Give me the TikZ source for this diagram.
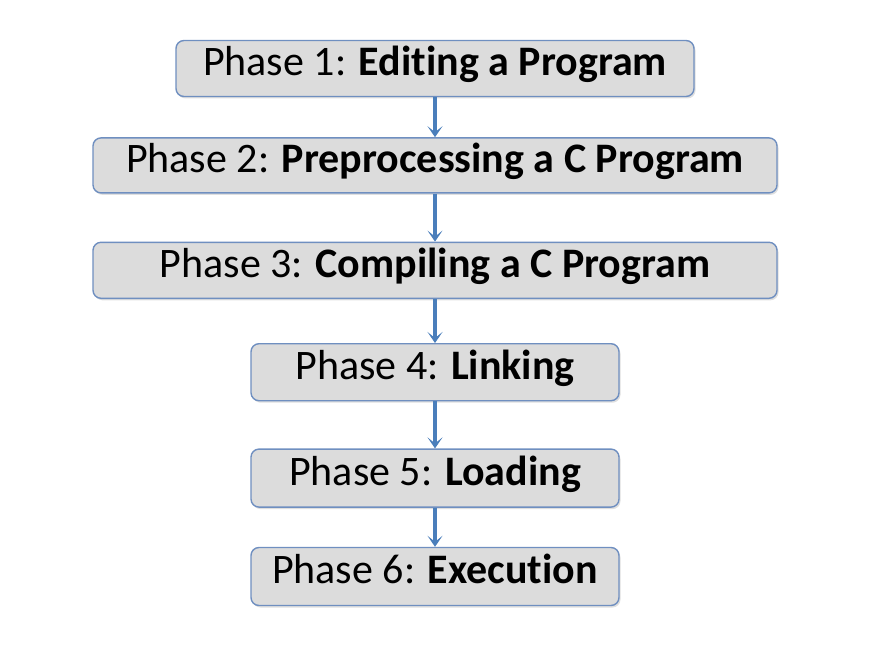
\documentclass[tikz,border=0pt]{standalone}
\usepackage{fontspec}
\setmainfont{Carlito}[RawFeature=-liga]
\usetikzlibrary{positioning,shadows,arrows.meta}
\definecolor{boxfill}{HTML}{DCDCDC}
\definecolor{boxline}{HTML}{6F8FC0}
\definecolor{arrowblue}{HTML}{4A7EBB}
\begin{document}
\begin{tikzpicture}[x=1pt, y=-1pt, node distance={40pt},
	phase/.style = {draw=boxline, line width=1.4pt, fill=boxfill, rounded corners=8pt,
		drop shadow={opacity=0.25, shadow xshift=1.5pt, shadow yshift=-2pt},
		inner sep=0pt, text height=29pt, text depth=15pt,
		font=\fontsize{42}{50}\selectfont},
	flow/.style = {draw=arrowblue, line width=3.2pt, -{Stealth[length=11pt, width=15pt, inset=6pt]}}]
	\useasboundingbox (0,0) rectangle (888,658);
	\node[phase, minimum width=518pt, minimum height=56pt] (p1) at (435,68.5) {Phase 1: \textbf{Editing a Program}\hspace{10pt}};
	\node[phase, minimum width=684pt, minimum height=55pt] (p2) [below=40pt of p1] {Phase 2: \textbf{Preprocessing a C Program}\hspace{10pt}};
	\node[phase, minimum width=684pt, minimum height=56pt] (p3) [below=48pt of p2] {Phase 3: \textbf{Compiling a C Program}\hspace{10pt}};
	\node[phase, minimum width=368pt, minimum height=57pt] (p4) [below=44pt of p3] {Phase 4: \textbf{Linking}\hspace{14pt}};
	\node[phase, minimum width=368pt, minimum height=58pt] (p5) [below=47pt of p4] {Phase 5: \textbf{Loading}\hspace{10pt}};
	\node[phase, minimum width=368pt, minimum height=58pt] (p6) [below=39pt of p5] {Phase 6: \textbf{Execution}\hspace{14pt}};
	\draw[flow] (p1) -- (p2);
	\draw[flow] (p2) -- (p3);
	\draw[flow] (p3) -- (p4);
	\draw[flow] (p4) -- (p5);
	\draw[flow] (p5) -- (p6);
\end{tikzpicture}
\end{document}
